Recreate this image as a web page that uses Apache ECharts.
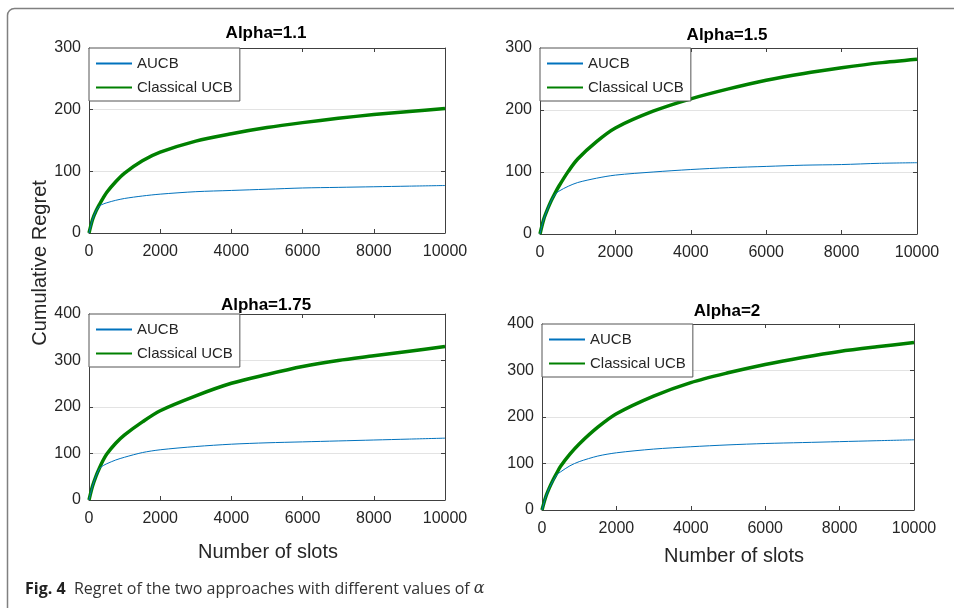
<!DOCTYPE html>
<html>
<head>
<meta charset="utf-8">
<script src="https://cdn.jsdelivr.net/npm/echarts@6/dist/echarts.min.js"></script>
<style>
html,body{margin:0;padding:0;background:#fff;}
#chart{width:954px;height:608px;}
</style>
</head>
<body>
<div id="chart"></div>
<script>
// ---- data ----
const xSlots = [0, 100, 200, 300, 400, 500, 750, 1000, 1500, 2000, 3000, 4000, 5000, 6000, 7000, 8000, 9000, 10000];
const titles = ['Alpha=1.1', 'Alpha=1.5', 'Alpha=1.75', 'Alpha=2'];
const seriesNames = ['AUCB', 'Classical UCB'];
const aucb11  = [0, 22, 36, 44, 47, 49, 53, 56, 60, 63, 67, 69, 71, 73, 74, 75, 76, 77];
const ucb11   = [0, 22, 36, 47, 57, 66, 83, 97, 117, 131, 149, 161, 171, 179, 186, 192, 197, 202];
const aucb15  = [0, 24, 40, 54, 64, 69, 77, 83, 90, 95, 100, 104, 107, 109, 111, 112, 114, 115];
const ucb15   = [0, 24, 40, 54, 66, 77, 101, 121, 149, 171, 198, 218, 234, 248, 259, 268, 276, 282];
const aucb175 = [0, 30, 52, 68, 74, 78, 86, 92, 102, 108, 115, 120, 123, 125, 127, 129, 131, 133];
const ucb175  = [0, 30, 52, 70, 86, 99, 122, 140, 168, 192, 224, 251, 270, 287, 300, 310, 320, 330];
const aucb2   = [0, 28, 48, 63, 76, 82, 95, 104, 116, 123, 131, 136, 140, 143, 145, 147, 149, 151];
const ucb2    = [0, 28, 48, 65, 80, 94, 120, 142, 178, 207, 245, 274, 295, 313, 328, 341, 351, 360];
const yMaxes = [300, 300, 400, 400];
const xTickStep = 2000;
const yTickStep = 100;

const aucbSets = [aucb11, aucb15, aucb175, aucb2];
const ucbSets = [ucb11, ucb15, ucb175, ucb2];

// ---- layout ----
const grids = [
  {left: 89, top: 48, width: 356, height: 185},
  {left: 540, top: 48, width: 377, height: 186},
  {left: 89, top: 314, width: 356, height: 186},
  {left: 542, top: 324, width: 372, height: 186}
];
const titlePos = [[266, 33], [727, 35], [266, 305], [727, 311]];
const xNamePos = [[268, 552], [734, 556]];

const FONT = 'Liberation Sans';
const AX = '#404040';
const LBL = '#262626';
const plain = v => String(v);

const xAxes = [], yAxes = [], series = [], legends = [], graphics = [];
grids.forEach((g, i) => {
  const common = {
    gridIndex: i, type: 'value', min: 0, max: 10000, interval: xTickStep,
    axisLine: {show: true, onZero: false, lineStyle: {color: AX, width: 1}},
    axisTick: {show: true, inside: true, length: 4, lineStyle: {color: AX}},
    splitLine: {show: false}
  };
  xAxes.push(Object.assign({}, common, {
    position: 'bottom',
    axisLabel: {margin: 11, fontSize: 16, color: LBL, fontFamily: FONT, formatter: plain}
  }));
  xAxes.push(Object.assign({}, common, {position: 'top', axisLabel: {show: false}}));
  const yc = {
    gridIndex: i, type: 'value', min: 0, max: yMaxes[i], interval: yTickStep,
    axisLine: {show: true, onZero: false, lineStyle: {color: AX, width: 1}},
    axisTick: {show: true, inside: true, length: 4, lineStyle: {color: AX}}
  };
  yAxes.push(Object.assign({}, yc, {
    position: 'left',
    axisLabel: {margin: 8, fontSize: 16, color: LBL, fontFamily: FONT, formatter: plain},
    splitLine: {show: true, lineStyle: {color: '#e3e3e3', width: 1}}
  }));
  yAxes.push(Object.assign({}, yc, {position: 'right', axisLabel: {show: false}, splitLine: {show: false}}));

  series.push({
    name: seriesNames[0], type: 'line', xAxisIndex: 2 * i, yAxisIndex: 2 * i,
    data: xSlots.map((x, k) => [x, aucbSets[i][k]]),
    symbol: 'none', smooth: 0.3,
    lineStyle: {color: '#0072BD', width: 1}, itemStyle: {color: '#0072BD'}, z: 3
  });
  series.push({
    name: seriesNames[1], type: 'line', xAxisIndex: 2 * i, yAxisIndex: 2 * i,
    data: xSlots.map((x, k) => [x, ucbSets[i][k]]),
    symbol: 'none', smooth: 0.3,
    lineStyle: {color: '#008000', width: 3.5, join: 'round'}, itemStyle: {color: '#008000'}, z: 2
  });
  legends.push({
    left: g.left, top: g.top, orient: 'vertical',
    data: seriesNames,
    itemWidth: 36, itemHeight: 14, itemGap: 9,
    padding: [8, 7, 6, 6],
    backgroundColor: '#ffffff', borderColor: '#555555', borderWidth: 1,
    itemStyle: {opacity: 0},
    textStyle: {fontSize: 15, color: LBL, fontFamily: FONT},
    selectedMode: false, z: 10
  });
  graphics.push({
    type: 'text', x: titlePos[i][0], y: titlePos[i][1],
    style: {text: titles[i], fontSize: 17, fontWeight: 'bold', fill: '#000', fontFamily: FONT,
            textAlign: 'center', textVerticalAlign: 'middle'}
  });
});

xNamePos.forEach(p => graphics.push({
  type: 'text', x: p[0], y: p[1],
  style: {text: 'Number of slots', fontSize: 20, fill: LBL, fontFamily: FONT,
          textAlign: 'center', textVerticalAlign: 'middle'}
}));
graphics.push({
  type: 'text', x: 40, y: 263, rotation: Math.PI / 2,
  style: {text: 'Cumulative Regret', fontSize: 20, fill: LBL, fontFamily: FONT,
          textAlign: 'center', textVerticalAlign: 'middle'}
});
graphics.push({
  type: 'rect', shape: {x: 7.5, y: 8.5, width: 1200, height: 1200, r: 7},
  style: {fill: 'none', stroke: '#808080', lineWidth: 1.5}, silent: true
});
graphics.push({
  type: 'text', x: 25, y: 589,
  style: {
    rich: {
      a: {fontFamily: 'Open Sans', fontWeight: 'bold', fontSize: 16, fill: '#222'},
      b: {fontFamily: 'Open Sans', fontSize: 16, fill: '#333'},
      c: {fontFamily: 'DejaVu Serif', fontStyle: 'italic', fontSize: 16, fill: '#333'}
    },
    text: '{a|Fig. 4}{b|  Regret of the two approaches with different values of }{c|α}',
    textVerticalAlign: 'middle', textAlign: 'left'
  }
});

const chart = echarts.init(document.getElementById('chart'), null, {renderer: 'canvas'});
chart.setOption({
  animation: false,
  backgroundColor: '#ffffff',
  textStyle: {fontFamily: FONT},
  grid: grids.map(g => Object.assign({containLabel: false}, g)),
  xAxis: xAxes,
  yAxis: yAxes,
  legend: legends,
  series: series,
  graphic: graphics
});
</script>
</body>
</html>
